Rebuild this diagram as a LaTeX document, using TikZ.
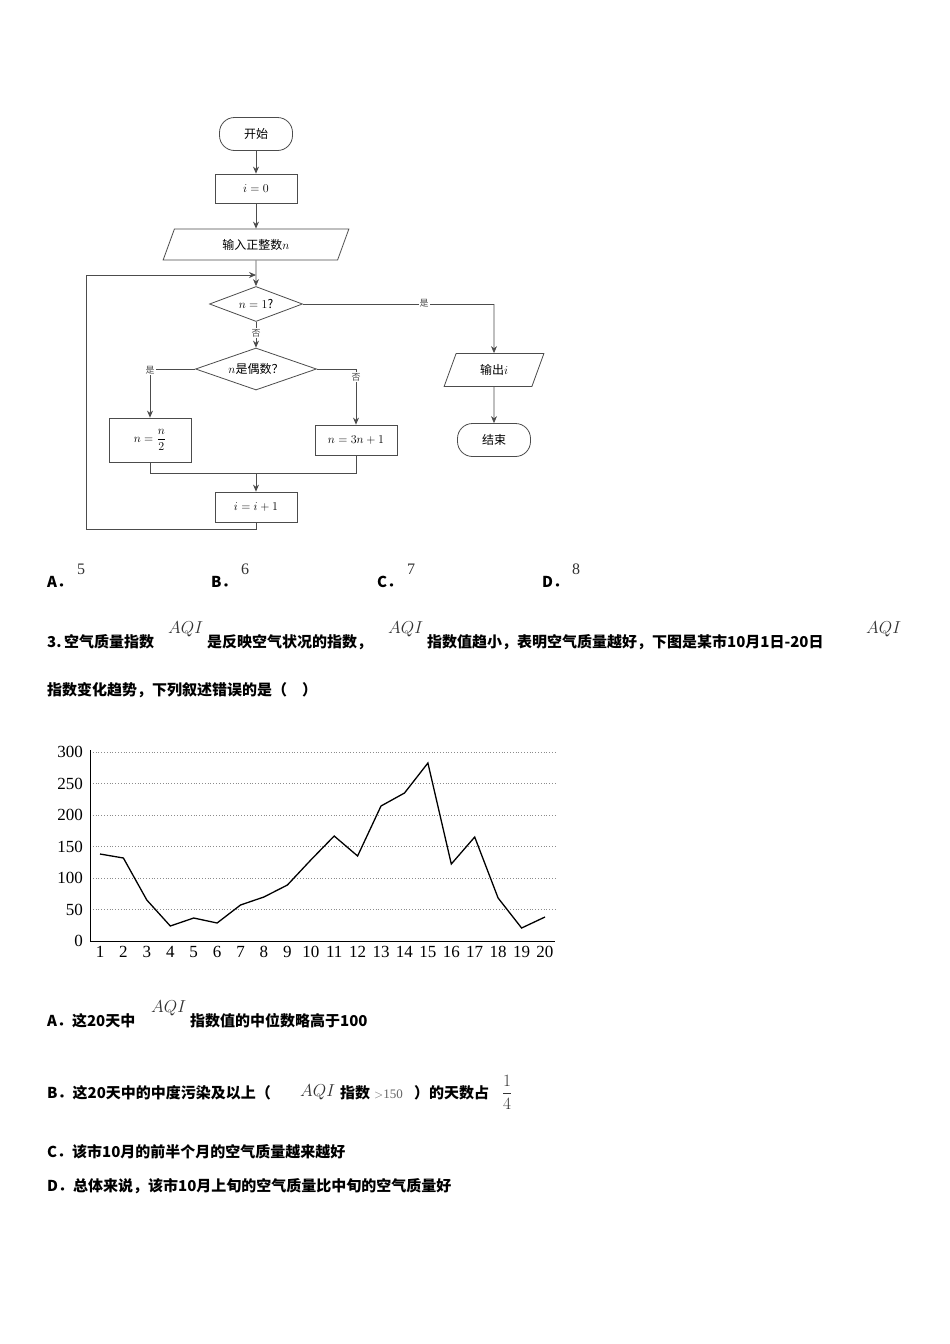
\documentclass[tikz,border=0pt]{standalone}
\usepackage{fontspec}
\setmainfont{Liberation Serif}
\newfontfamily\cjk{Noto Sans CJK SC}
\usetikzlibrary{shapes.geometric,arrows.meta}
\tikzset{
 fl/.style={draw=black!70,line width=0.8pt,font=\fontsize{12}{14}\selectfont\cjk,inner sep=1pt},
 rbox/.style={fl,rectangle,minimum width=82pt,minimum height=29pt},
 term/.style={fl,rounded corners=15pt,minimum width=73pt,minimum height=33pt},
 io/.style={fl,trapezium,trapezium left angle=70,trapezium right angle=110,minimum width=120pt,minimum height=31pt},
 dia/.style={fl,diamond,aspect=2.7,inner sep=0pt},
 ar/.style={draw=black!70,line width=0.8pt,-{Stealth[length=7pt,width=6pt]}},
 ln/.style={draw=black!70,line width=0.8pt},
 lbl/.style={font=\fontsize{9}{10}\selectfont\cjk,fill=white,inner sep=1pt,text=black!70},
 tx/.style={anchor=base west,inner sep=0pt,font=\fontsize{15}{17}\selectfont\bfseries\cjk},
 mx/.style={anchor=base west,inner sep=0pt,font=\fontsize{16}{18}\selectfont,text=black!80},
}
\begin{document}
\begin{tikzpicture}[x=1pt,y=-1pt]
\useasboundingbox (0,0) rectangle (950,1344);
\fill[white] (0,0) rectangle (950,1344);
% flowchart
\node[term] (start) at (256,134) {开始};
\node[rbox] (i0) at (256,188.5) {$i=0$};
\node[io,minimum width=128pt] (in) at (256,244.5) {输入正整数$n$};
\node[dia,minimum width=93pt,minimum height=35pt] (d1) at (256,304) {$n=1$?};
\node[dia,minimum width=121pt,minimum height=42pt] (d2) at (256,369) {$n$是偶数？};
\node[rbox,minimum height=44pt] (half) at (150,440) {$n=\displaystyle\frac{n}{2}$};
\node[rbox,minimum height=30pt] (tri) at (356,440) {$n=3n+1$};
\node[rbox,minimum height=30pt] (inc) at (256,507) {$i=i+1$};
\node[io,minimum width=100pt,minimum height=30pt] (out) at (494,370) {输出$i$};
\node[term] (end) at (494,440) {结束};
\coordinate (top) at (256,275);
\coordinate (m) at (256,473);
\draw[ar] (start) -- (i0);
\draw[ar] (i0) -- (in);
\draw[ar] (in) -- (d1);
\draw[ln] (d1.south) -- (256,337);
\draw[ar] (256,337) -- (d2.north);
\node[lbl] (no1) at (256,333) {否};
\draw[ln] (d1.east) -- (494,304);
\draw[ar] (494,304) -- (out.north);
\node[lbl] (yes1) at (424,303) {是};
\draw[ar] (out) -- (end);
\draw[ar] (d2.west) -- (150,369) -- (half.north);
\node[lbl] (yes2) at (150,370) {是};
\draw[ar] (d2.east) -- (356,369) -- (tri.north);
\node[lbl] (no2) at (356,377) {否};
\draw[ln] (half.south) -- (150,473) -- (356,473) -- (tri.south);
\draw[ar] (m) -- (inc.north);
\draw[ar] (inc.south) -- (256,529) -- (86,529) -- (86,275) -- (top);
% answers
\node[tx] (a) at (47,587) {A．};
\node[mx] (a5) at (77,574) {5};
\node[tx] (b) at (211,587) {B．};
\node[mx] (b6) at (241,574) {6};
\node[tx] (c) at (377,587) {C．};
\node[mx] (c7) at (407,574) {7};
\node[tx] (d) at (542,587) {D．};
\node[mx] (d8) at (572,574) {8};
% question
\node[tx] (q1) at (47,647) {3.\,空气质量指数};
\node[mx] (aq1) at (168,633) {$AQI$};
\node[tx] (q2) at (207,647) {是反映空气状况的指数，};
\node[mx] (aq2) at (388,633) {$AQI$};
\node[tx] (q3) at (427,647) {指数值趋小，表明空气质量越好，下图是某市10月1日-20日};
\node[mx] (aq3) at (866,633) {$AQI$};
\node[tx] (q4) at (47,695) {指数变化趋势，下列叙述错误的是（\quad）};
% chart
\begin{scope}[font=\fontsize{17}{18}\selectfont]
\foreach \v in {50,100,150,200,250,300}
  \draw[black!45,dotted,line width=0.8pt] (90,{941-0.63*\v}) -- (555,{941-0.63*\v});
\foreach \v in {0,50,100,150,200,250,300}
  \node[anchor=east,inner sep=0pt] at (83,{941-0.63*\v}) {\v};
\draw[line width=1pt] (90,750) -- (90,941) -- (555,941);
\foreach \i in {1,...,20}
  \node[anchor=north,inner sep=0pt] at ({100+(\i-1)*23.42},946) {\i};
\draw[line width=1.3pt] plot[mark=square*,mark size=3pt] coordinates {
(100,854)(123.4,858)(146.8,900)(170.3,926)(193.7,918)(217.1,923)(240.5,905)(263.9,897)(287.4,885)(310.8,860)
(334.2,836)(357.6,856)(381,806)(404.5,793)(427.9,763)(451.3,864)(474.7,837)(498.1,898)(521.6,928)(545,917)};
\end{scope}
% options
\node[tx] (oa) at (47,1026) {A．这20天中};
\node[mx] (aqa) at (151,1012) {$AQI$};
\node[tx] (oa2) at (190,1026) {指数值的中位数略高于100};
\node[tx] (ob) at (47,1098) {B．这20天中的中度污染及以上（};
\node[mx] (aqb) at (300,1096) {$AQI$};
\node[tx] (ob2) at (340,1098) {指数};
\node[anchor=base west,inner sep=0pt,font=\fontsize{13}{14}\selectfont,text=black!60] (gt) at (374,1098) {$>$150};
\node[tx] (ob3) at (414,1098) {）的天数占};
\node[mx,anchor=base] (fr) at (507,1098) {$\displaystyle\frac{1}{4}$};
\node[tx] (oc) at (47,1157) {C．该市10月的前半个月的空气质量越来越好};
\node[tx] (od) at (47,1191) {D．总体来说，该市10月上旬的空气质量比中旬的空气质量好};
\end{tikzpicture}
\end{document}
